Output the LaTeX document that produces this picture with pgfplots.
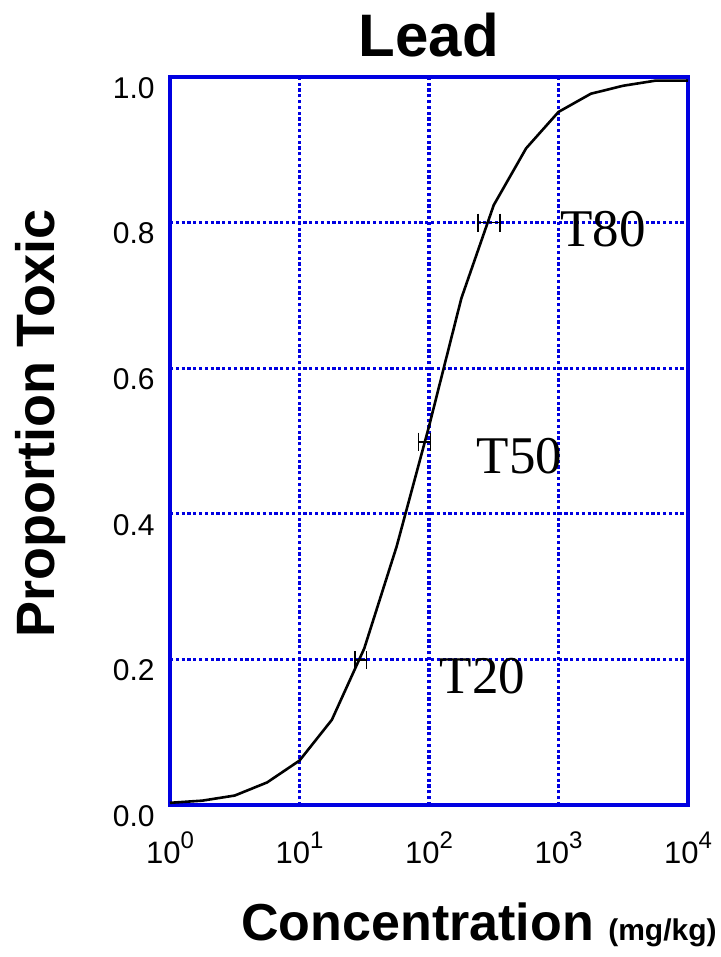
\documentclass[border=0pt]{standalone}
\usepackage{pgfplots}
\pgfplotsset{compat=1.18}
\usepackage{fontspec}
\setmainfont{Liberation Sans}
\newfontfamily\serifT{Liberation Serif}
\definecolor{gridblue}{RGB}{0,0,225}
\newcommand\tp[1]{10\raisebox{7.5pt}{\fontsize{12}{12}\selectfont #1}}

\begin{document}
\begin{tikzpicture}
\begin{axis}[
    name=ax,
    xmode=log,
    scale only axis,
    width=259pt, height=364pt,
    xmin=1, xmax=10000, ymin=0, ymax=1,
    clip=false,
    axis line style={gridblue, line width=1.8pt},
    grid=major,
    major grid style={gridblue, line width=1.6pt, dash pattern=on 1.6pt off 1.3pt},
    tick style={draw=none},
    minor xtick={},
    xtick={1,10,100,1000,10000},
    xticklabels={\tp{0},\tp{1},\tp{2},\tp{3},\tp{4}},
    ytick={0,0.2,0.4,0.6,0.8,1},
    yticklabels={0.0,0.2,0.4,0.6,0.8,1.0},
    xticklabel style={font=\fontsize{15.5}{15.5}\selectfont, anchor=base, inner sep=0pt, yshift=-29pt},
    yticklabel style={font=\fontsize{15}{15}\selectfont, anchor=east, inner sep=0pt, xshift=-7.5pt, yshift=-5.5pt},
]
% dose-response curve
\addplot[black, line width=1.3pt] coordinates {
    (1,0.003) (1.778,0.006) (3.162,0.013) (5.623,0.031) (10,0.061)
    (17.78,0.117) (31.62,0.215) (56.23,0.355) (100,0.52) (177.8,0.696)
    (316.2,0.824) (562.3,0.902) (1000,0.952) (1778,0.977) (3162,0.988)
    (5623,0.995) (10000,0.995)
};
% confidence bars for T20, T50, T80
\addplot[black, line width=0.8pt, mark=|, mark size=4.5pt] coordinates {(240,0.8) (353,0.8)};
\addplot[black, line width=0.8pt, mark=|, mark size=4.5pt] coordinates {(82.7,0.499) (103,0.499)};
\addplot[black, line width=0.8pt, mark=|, mark size=4.5pt] coordinates {(26.8,0.199) (33,0.199)};

\node[anchor=base west, inner sep=0pt, font=\serifT\fontsize{26.5}{26.5}\selectfont] at (axis cs:1027,0.767) {T80};
\node[anchor=base west, inner sep=0pt, font=\serifT\fontsize{26.5}{26.5}\selectfont] at (axis cs:233,0.4547) {T50};
\node[anchor=base west, inner sep=0pt, font=\serifT\fontsize{26.5}{26.5}\selectfont] at (axis cs:120,0.153) {T20};
\end{axis}

% title and axis labels
\node[anchor=base, inner sep=0pt, font=\bfseries\fontsize{30}{30}\selectfont]
    at ([yshift=10pt]ax.north) {Lead};
\node[rotate=90, anchor=base, inner sep=0pt, font=\bfseries\fontsize{27}{27}\selectfont]
    at ([shift={(-57.5pt,190.5pt)}]ax.south west) {Proportion Toxic};
\node[anchor=base west, inner sep=0pt]
    at ([shift={(35.5pt,-67.5pt)}]ax.south west)
    {\bfseries\fontsize{26}{26}\selectfont Concentration \fontsize{15}{15}\selectfont(mg/kg)};
\path ([shift={(-85pt,-76pt)}]ax.south west) rectangle ([shift={(275pt,402.5pt)}]ax.south west);
\end{tikzpicture}
\end{document}
